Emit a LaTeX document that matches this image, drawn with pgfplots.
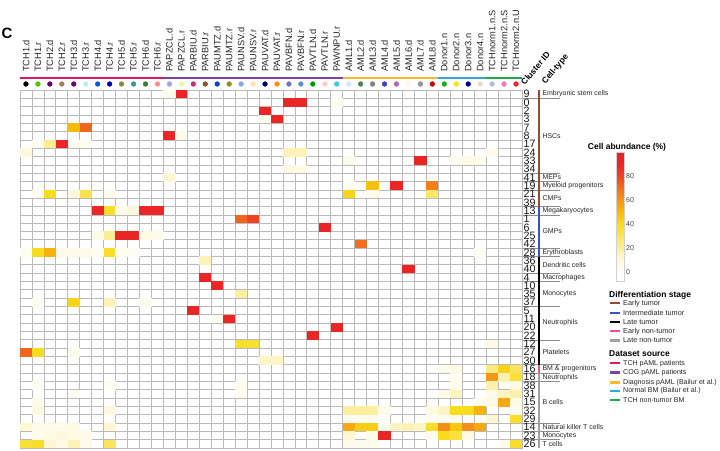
\documentclass[border=0pt]{standalone}
\usepackage{fontspec}
\setmainfont{Liberation Sans}
\usepackage{pgfplots}
\pgfplotsset{compat=1.18}
\usepackage{pgfplotstable}
\usetikzlibrary{calc}

% one heat-map cell, slightly larger than the grid pitch so the grid covers the seams
\pgfdeclareplotmark{cell}{%
  \pgfpathrectangle{\pgfpoint{-6.1bp}{-4.3bp}}{\pgfpoint{12.2bp}{8.6bp}}%
  \pgfusepathqfill}

\definecolor{early}{HTML}{964B2D}
\definecolor{inter}{HTML}{3355CC}
\definecolor{earlynon}{HTML}{E650A0}
\definecolor{latenon}{HTML}{A0A0A0}
\definecolor{srcTCH}{HTML}{D81B60}
\definecolor{srcCOG}{HTML}{7E3FA6}
\definecolor{srcDiag}{HTML}{F6B92B}
\definecolor{srcNorm}{HTML}{32A8E0}
\definecolor{srcTCHn}{HTML}{1EA84A}

% cell abundance (%) per sample (x = sample index, y = cluster row index)
\pgfplotstableread{
x y c
13 0 92
12 0 5
22 1 90
23 1 90
26 1 4
20 2 92
20 3 5
21 3 92
4 4 50
5 4 72
12 5 92
13 5 6
1 6 4
2 6 22
3 6 90
4 6 5
5 6 4
0 7 10
22 7 16
23 7 16
39 7 5
27 8 6
33 8 92
36 8 5
37 8 7
38 8 6
22 9 10
23 9 8
12 10 12
27 11 4
29 11 48
31 11 90
34 11 66
1 12 3
2 12 40
4 12 10
5 12 32
7 12 6
27 12 42
29 12 6
34 12 28
6 14 90
7 14 38
8 14 6
9 14 10
10 14 90
11 14 90
18 15 72
19 15 80
25 16 92
6 17 6
7 17 22
8 17 90
9 17 90
10 17 8
11 17 6
28 18 70
0 19 4
1 19 40
2 19 52
3 19 6
4 19 6
5 19 6
6 19 4
7 19 38
8 19 4
9 19 3
38 19 4
15 20 16
32 21 92
15 22 92
16 23 92
18 24 20
1 25 4
4 25 42
7 25 16
10 25 6
14 26 92
16 27 4
17 27 92
26 28 92
24 29 92
18 30 38
19 30 36
39 30 6
0 31 72
1 31 40
4 31 6
20 32 14
21 32 14
35 33 6
36 33 8
39 33 25
40 33 42
41 33 30
36 34 4
39 34 60
40 34 18
41 34 36
1 35 4
7 35 4
18 35 4
36 35 5
39 35 18
41 35 8
4 36 4
18 36 4
35 36 6
36 36 15
39 36 6
40 36 15
41 36 18
1 37 6
38 37 5
39 37 8
40 37 55
41 37 8
1 38 10
7 38 10
27 38 20
28 38 20
29 38 20
30 38 6
34 38 8
35 38 14
36 38 40
37 38 40
38 38 52
41 38 5
27 39 4
28 39 4
29 39 4
34 39 4
35 39 4
36 39 6
39 39 12
41 39 38
0 40 12
1 40 6
2 40 6
3 40 6
4 40 8
7 40 12
27 40 55
28 40 44
29 40 44
30 40 5
31 40 14
32 40 16
33 40 14
34 40 38
35 40 62
36 40 46
37 40 62
38 40 55
1 41 5
2 41 8
3 41 10
4 41 8
5 41 6
27 41 12
29 41 6
30 41 92
34 41 6
35 41 40
36 41 35
37 41 8
0 42 36
1 42 38
2 42 12
3 42 8
4 42 16
5 42 6
7 42 30
27 42 5
28 42 5
29 42 5
40 42 5
41 42 38
}\abundance

\newcommand{\coldot}[2]{\addplot[only marks, mark=*, mark size=2.4bp, color=#2] coordinates {(#1,-1.22)};}

\begin{document}
\begin{tikzpicture}
\useasboundingbox (0,0) rectangle (720bp,451bp);

\begin{axis}[
  at={(20bp,361bp)}, anchor=north west,
  scale only axis, width=502bp, height=358bp,
  xmin=-0.5, xmax=41.5, ymin=-0.5, ymax=42.5, y dir=reverse,
  axis on top, clip=false,
  xtick={0,...,41},
  xticklabels={TCH1.d,TCH1.r,TCH2.d,TCH2.r,TCH3.d,TCH3.r,TCH4.d,TCH4.r,TCH5.d,TCH5.r,TCH6.d,TCH6.r,
    PAPZCL.d,PAPZCL.r,PARBIU.d,PARBIU.r,PAUMTZ.d,PAUMTZ.r,PAUNSV.d,PAUNSV.r,PAUVAT.d,PAUVAT.r,
    PAVBFN.d,PAVBFN.r,PAVTLN.d,PAVTLN.r,PAWNPU.r,
    AML1.d,AML2.d,AML3.d,AML4.d,AML5.d,AML6.d,AML7.d,AML8.d,
    Donor1.n,Donor2.n,Donor3.n,Donor4.n,TCHnorm1.n.S,TCHnorm2.n.S,TCHnorm2.n.U},
  xticklabel pos=upper,
  xticklabel style={rotate=90, anchor=west, inner sep=0pt,
    font=\fontsize{9.3}{10}\selectfont, text=black!85},
  xticklabel shift=18bp,
  ytick={0,...,42},
  yticklabels={9,0,2,3,7,8,17,24,33,34,41,19,21,39,13,1,6,25,42,28,36,40,4,10,35,37,5,11,20,22,12,27,30,16,18,38,31,15,32,29,14,23,26},
  yticklabel pos=right,
  yticklabel style={anchor=west, inner sep=0pt, font=\fontsize{10.75}{10}\selectfont, text=black!90},
  yticklabel shift=1.5bp,
  major tick length=0pt, minor tick length=0pt,
  minor xtick={-0.5,0.5,...,41.5},
  minor ytick={-0.5,0.5,...,42.5},
  xminorgrids=true, yminorgrids=true,
  minor grid style={draw=black!27, line width=0.75bp},
  axis line style={draw=black!27, line width=0.75bp},
  colormap={abundance}{
    rgb255(0pt)=(255,255,255);
    rgb255(8pt)=(255,255,252);
    rgb255(18pt)=(254,249,222);
    rgb255(28pt)=(252,239,160);
    rgb255(38pt)=(250,229,90);
    rgb255(48pt)=(248,220,30);
    rgb255(58pt)=(246,186,10);
    rgb255(68pt)=(244,150,24);
    rgb255(78pt)=(240,110,32);
    rgb255(88pt)=(236,68,36);
    rgb255(98pt)=(234,38,38);
    rgb255(108pt)=(232,34,40)},
  point meta min=-8, point meta max=100,
  colorbar,
  colorbar style={
    at={($(parent axis.north east)+(86bp,-62bp)$)}, anchor=north west,
    scale only axis, width=8bp, height=129.6bp,
    ytick={0,20,40,60,80},
    yticklabel style={font=\fontsize{7}{8}\selectfont, text=black!75, inner sep=1.5pt},
    major tick length=0pt,
    axis line style={draw=black!18, line width=0.4bp},
    /pgf/number format/assume math mode=true,
  },
]
\addplot[only marks, scatter, scatter src=explicit, mark=cell]
  table[x=x, y=y, meta=c] {\abundance};

% sample colour dots
\coldot{0}{black}
\coldot{1}{green!55!lime!80!black}
\coldot{2}{violet!80!black}
\coldot{3}{brown!50!gray}
\coldot{4}{violet!85!black}
\coldot{5}{cyan!25}
\coldot{6}{blue!55!cyan!80!black}
\coldot{7}{blue!70!black}
\coldot{8}{olive!60!gray}
\coldot{9}{teal!80}
\coldot{10}{gray!60!green!70!black}
\coldot{11}{red!45}
\coldot{12}{blue!35!white!90!gray}
\coldot{13}{green!30!yellow!40}
\coldot{14}{magenta!75!black}
\coldot{15}{brown!70!black}
\coldot{16}{blue!65!cyan!80!black}
\coldot{17}{olive!75!brown}
\coldot{18}{cyan!55!blue!50}
\coldot{19}{yellow!40!orange!30}
\coldot{20}{blue!50!black}
\coldot{21}{orange!90}
\coldot{22}{blue!35!gray!80}
\coldot{23}{cyan!55!blue!70}
\coldot{24}{green!60!black}
\coldot{25}{pink!80}
\coldot{26}{cyan!75}
\coldot{27}{blue!12}
\coldot{28}{green!30!black!70}
\coldot{29}{gray}
\coldot{30}{blue!50!gray}
\coldot{31}{violet!60}
\coldot{32}{orange!8}
\coldot{33}{gray!85}
\coldot{34}{red!80!black}
\coldot{35}{green!65!black!90}
\coldot{36}{yellow!85!orange}
\coldot{37}{blue!60!black}
\coldot{38}{brown!30}
\coldot{39}{cyan!30!blue!30}
\coldot{40}{magenta!55}
\coldot{41}{red!85}

% dataset source bars above the samples
\draw[line width=2.2bp, srcTCH]  (axis cs:-0.5,-1.98) -- (axis cs:11.5,-1.98);
\draw[line width=2.2bp, srcCOG]  (axis cs:11.5,-1.98) -- (axis cs:26.5,-1.98);
\draw[line width=2.2bp, srcDiag] (axis cs:26.5,-1.98) -- (axis cs:34.5,-1.98);
\draw[line width=2.2bp, srcNorm] (axis cs:34.5,-1.98) -- (axis cs:38.5,-1.98);
\draw[line width=2.2bp, srcTCHn] (axis cs:38.5,-1.98) -- (axis cs:41.5,-1.98);

% cell-type group separators
\pgfplotsinvokeforeach{0.5,9.5,10.5,11.5,13.5,14.5,18.5,19.5,21.5,22.5,25.5,29.5,32.5,33.5,34.5,39.5,40.5,41.5}{
  \draw[black!45, line width=0.5bp] (axis cs:41.5,#1) -- (axis cs:44.68,#1);
}

% differentiation-stage bars
\draw[line width=2.2bp, early]    (axis cs:42.95,-0.5) -- (axis cs:42.95,13.5);
\draw[line width=2.2bp, inter]    (axis cs:42.95,13.5) -- (axis cs:42.95,19.5);
\draw[line width=2.2bp, black]    (axis cs:42.95,19.5) -- (axis cs:42.95,32.5);
\draw[line width=2.2bp, earlynon] (axis cs:42.95,32.5) -- (axis cs:42.95,33.5);
\draw[line width=2.2bp, latenon]  (axis cs:42.95,33.5) -- (axis cs:42.95,42.5);

% cell-type labels
\begin{scope}[every node/.style={anchor=west, inner sep=0pt, font=\fontsize{7}{8}\selectfont, text=black!85}]
\node at (axis cs:43.2,0) {Embryonic stem cells};
\node at (axis cs:43.2,5) {HSCs};
\node at (axis cs:43.2,10) {MEPs};
\node at (axis cs:43.2,11) {Myeloid progenitors};
\node at (axis cs:43.2,12.5) {CMPs};
\node at (axis cs:43.2,14) {Megakaryocytes};
\node at (axis cs:43.2,16.5) {GMPs};
\node at (axis cs:43.2,19) {Erythroblasts};
\node at (axis cs:43.2,20.5) {Dendritic cells};
\node at (axis cs:43.2,22) {Macrophages};
\node at (axis cs:43.2,24) {Monocytes};
\node at (axis cs:43.2,27.5) {Neutrophils};
\node at (axis cs:43.2,31) {Platelets};
\node at (axis cs:43.2,33) {BM \& progenitors};
\node at (axis cs:43.2,34) {Neutrophils};
\node at (axis cs:43.2,37) {B cells};
\node at (axis cs:43.2,40) {Natural killer T cells};
\node at (axis cs:43.2,41) {Monocytes};
\node at (axis cs:43.2,42) {T cells};
\end{scope}
\end{axis}

% headings and legends (coordinates measured from the top-left corner)
\begin{scope}[x=1bp, y=-1bp, shift={(0bp,451bp)}]
\node[font=\fontsize{15}{16}\selectfont\bfseries] at (7,33) {C};
\node[rotate=50, anchor=south west, inner sep=0pt, font=\fontsize{8.5}{9}\selectfont\bfseries] at (525,86) {Cluster ID};
\node[rotate=50, anchor=south west, inner sep=0pt, font=\fontsize{8.5}{9}\selectfont\bfseries] at (547,86) {Cell-type};

\node[font=\fontsize{8.5}{9}\selectfont\bfseries] at (627,147) {Cell abundance (\%)};

\node[anchor=west, inner sep=0pt, font=\fontsize{8.5}{9}\selectfont\bfseries] at (609,295) {Differentiation stage};
\begin{scope}[every node/.style={anchor=west, inner sep=0pt, font=\fontsize{7.3}{8}\selectfont, text=black!85}]
\draw[line width=2.4bp, early]    (610,303.3) -- (620,303.3) node[right=2bp] {Early tumor};
\draw[line width=2.4bp, inter]    (610,313.0) -- (620,313.0) node[right=2bp] {Intermediate tumor};
\draw[line width=2.4bp, black]    (610,321.9) -- (620,321.9) node[right=2bp] {Late tumor};
\draw[line width=2.4bp, earlynon] (610,331.3) -- (620,331.3) node[right=2bp] {Early non-tumor};
\draw[line width=2.4bp, latenon]  (610,340.5) -- (620,340.5) node[right=2bp] {Late non-tumor};
\end{scope}

\node[anchor=west, inner sep=0pt, font=\fontsize{8.5}{9}\selectfont\bfseries] at (609,354) {Dataset source};
\begin{scope}[every node/.style={anchor=west, inner sep=0pt, font=\fontsize{7.1}{8}\selectfont, text=black!85}]
\draw[line width=2.4bp, srcTCH]  (610,363.3) -- (620,363.3) node[right=2bp] {TCH pAML patients};
\draw[line width=2.4bp, srcCOG]  (610,372.7) -- (620,372.7) node[right=2bp] {COG pAML patients};
\draw[line width=2.4bp, srcDiag] (610,382.5) -- (620,382.5) node[right=2bp] {Diagnosis pAML (Bailur et al.)};
\draw[line width=2.4bp, srcNorm] (610,391.0) -- (620,391.0) node[right=2bp] {Normal BM (Bailur et al.)};
\draw[line width=2.4bp, srcTCHn] (610,400.3) -- (620,400.3) node[right=2bp] {TCH non-tumor BM};
\end{scope}
\end{scope}
\end{tikzpicture}
\end{document}
